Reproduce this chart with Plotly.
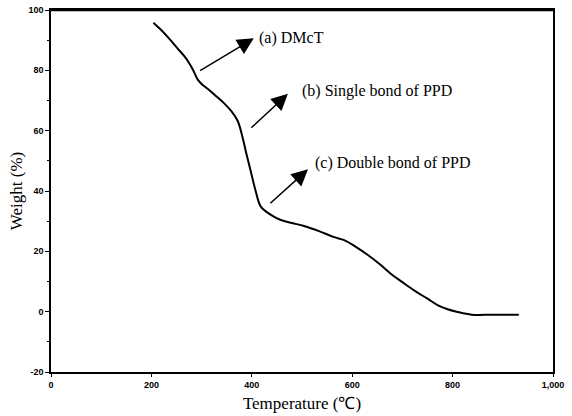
import plotly.graph_objects as go

# Data
temperature = [204, 218, 235, 252, 266, 276, 284, 292, 300, 312, 328, 344, 360, 372, 382, 388, 398, 408, 418, 438, 458, 480, 504, 534, 564, 584, 608, 632, 655, 678, 700, 724, 750, 772, 790, 808, 838, 880, 932]
weight = [95.8, 93.6, 90.6, 87.3, 84.6, 82.2, 79.8, 77.0, 75.5, 73.9, 71.6, 69.2, 66.3, 63.2, 57.5, 53.2, 46.5, 39.8, 34.8, 32.1, 30.4, 29.4, 28.4, 26.7, 24.7, 23.7, 21.4, 18.7, 15.7, 12.4, 9.8, 7.0, 4.3, 2.0, 0.8, 0.0, -1.0, -1.0, -1.0]

x_ticks = [0, 200, 400, 600, 800, 1000]
x_tick_labels = ["0", "200", "400", "600", "800", "1,000"]
y_ticks = [-20, 0, 20, 40, 60, 80, 100]
y_tick_labels = ["-20", "0", "20", "40", "60", "80", "100"]

labels = ["(a) DMcT", "(b) Single bond of PPD", "(c) Double bond of PPD"]
label_pos = [(410, 90.6), (496, 73.2), (522, 49.2)]
arrow_tip = [(404, 90.6), (472, 72.2), (512, 47.2)]
arrow_tail = [(294, 79.6), (396, 60.5), (434, 35.5)]

serif = "Liberation Serif"

fig = go.Figure()
fig.add_trace(go.Scatter(x=temperature, y=weight, mode="lines",
                         line=dict(color="black", width=2, shape="spline", smoothing=1.0),
                         showlegend=False, hoverinfo="skip"))

for txt, (lx, ly), (tx, ty), (sx, sy) in zip(labels, label_pos, arrow_tip, arrow_tail):
    fig.add_annotation(x=tx, y=ty, ax=sx, ay=sy, xref="x", yref="y", axref="x", ayref="y",
                       text="", showarrow=True, arrowhead=2, arrowsize=2.2, arrowwidth=1.5,
                       arrowcolor="black", standoff=0)
    fig.add_annotation(x=lx, y=ly, xref="x", yref="y", text=txt, showarrow=False,
                       xanchor="left", yanchor="middle",
                       font=dict(family=serif, size=16, color="black"))

fig.update_layout(
    width=572, height=416,
    margin=dict(l=51, r=19, t=10, b=44, autoexpand=False),
    paper_bgcolor="white", plot_bgcolor="white",
    xaxis=dict(range=[0, 1000], tickvals=x_ticks, ticktext=x_tick_labels, automargin=False,
               showgrid=False, zeroline=False, showline=True, linecolor="black", linewidth=1.5,
               mirror=True, ticks="outside", ticklen=3, tickcolor="black",
               tickfont=dict(family="Liberation Sans", size=9, color="black", weight="bold"),
               title=dict(text="Temperature (℃)", font=dict(family=serif, size=17, color="black"),
                          standoff=9)),
    yaxis=dict(range=[-20, 100], tickvals=y_ticks, ticktext=y_tick_labels, automargin=False,
               showgrid=False, zeroline=False, showline=True, linecolor="black", linewidth=1.5,
               mirror=True, ticks="outside", ticklen=4, tickcolor="black",
               minor=dict(dtick=10, ticks="outside", ticklen=2, tickcolor="black"),
               tickfont=dict(family="Liberation Sans", size=9, color="black", weight="bold"),
               title=dict(text="Weight (%)", font=dict(family=serif, size=17, color="black"),
                          standoff=1)),
)
# thicker top border
fig.add_shape(type="line", xref="paper", yref="paper", x0=0, x1=1, y0=1, y1=1,
              line=dict(color="black", width=2.5))

fig.write_html("out.html", config={"displayModeBar": False},
               post_script="document.body.style.margin='0';document.body.style.overflow='hidden';")
